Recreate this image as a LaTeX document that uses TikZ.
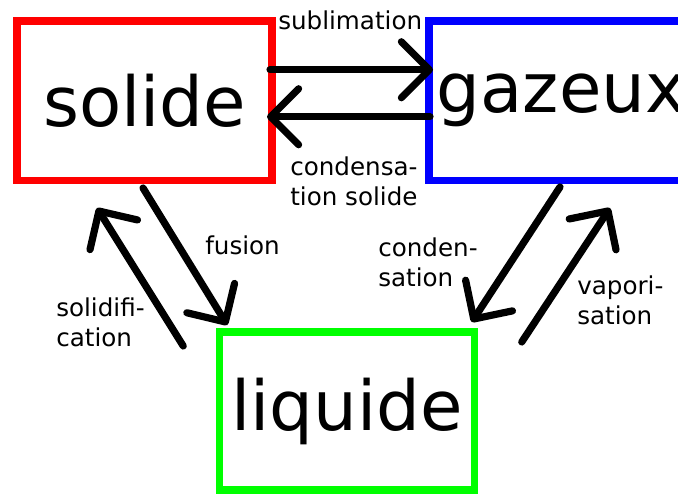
\documentclass[tikz,border=0pt]{standalone}
\usepackage{fontspec}
\setmainfont{DejaVu Sans}
\usetikzlibrary{arrows.meta, calc}
\definecolor{cSolide}{HTML}{FF0000}
\definecolor{cGaz}{HTML}{0000FF}
\definecolor{cLiq}{HTML}{00FF00}

\begin{document}
\begin{tikzpicture}[
    x=0.75pt, y=-0.75pt,
    etat/.style={draw, line width=5.6pt, rectangle, outer sep=0pt,
                 minimum width=191.25pt, minimum height=119.6pt,
                 font=\fontsize{51.75}{60}\selectfont},
    fleche/.style={-{Straight Barb[length=21pt, width=42pt, round]},
                   line width=5.4pt, line cap=round, black},
    lbl/.style={font=\fontsize{18.45}{22.5}\selectfont, inner sep=0pt,
                align=left, anchor=north west},
]
\useasboundingbox (0,0) rectangle (678,493);
\clip (0,0) rectangle (678,493);

% ===================== Etats =====================
\node[etat, draw=cSolide] (solide) at (144.5,100.75) {solide};
\node[etat, draw=cGaz, minimum width=198.75pt] (gazeux) at (561.5,100.75) {gazeux};
\node[etat, draw=cLiq, minimum height=118.5pt] (liquide) at (346.75,411) {liquide};

% ===================== solide <-> gazeux =====================
\draw[fleche] ($(solide.east)+(-2,-31)$) -- ($(gazeux.west)+(4,-31)$);
\draw[fleche] ($(gazeux.west)+(1,16)$) -- ($(solide.east)+(-5,16)$);
\node[lbl] (lSub) at (278,11) {sublimation};
\node[lbl] (lCondS) at (290,157) {condensa-\\tion solide};

% ===================== solide <-> liquide =====================
\draw[fleche] ($(solide.south)+(-1.5,7.5)$) -- ($(liquide.north west)+(8,-7)$);
\draw[fleche] ($(liquide.north west)+(-36,14)$) -- ($(solide.south)+(-47.5,27.5)$);
\node[lbl] (lFus) at (205,236) {fusion};
\node[lbl] (lSol) at (56,298) {solidifi-\\cation};

% ===================== gazeux <-> liquide =====================
\draw[fleche] ($(gazeux.south)+(-1.5,6.5)$) -- ($(liquide.north east)+(-2.5,-10)$);
\draw[fleche] ($(liquide.north east)+(47.5,10)$) -- ($(gazeux.south)+(48.5,27.5)$);
\node[lbl] (lCond) at (378,238) {conden-\\sation};
\node[lbl] (lVap) at (577,276) {vapori-\\sation};

\end{tikzpicture}
\end{document}
